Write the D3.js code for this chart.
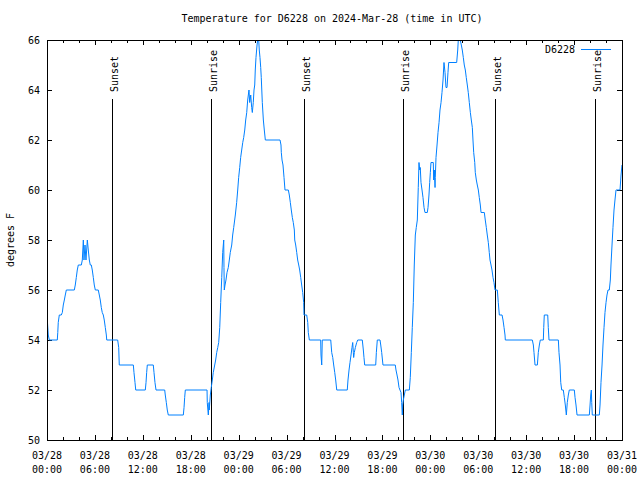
<!DOCTYPE html>
<html><head><meta charset="utf-8">
<script src="https://cdn.jsdelivr.net/npm/d3@7"></script>
<style>body{margin:0;background:#fff}svg{display:block}text{font-family:"DejaVu Sans Mono",monospace;font-size:10px;fill:#000}</style>
</head><body><div id="c"></div>
<script>
const title = "Temperature for D6228 on 2024-Mar-28 (time in UTC)";
const seriesName = "D6228";
const yLabel = "degrees F";
// hours since 2024-03-28 00:00 UTC
const hours = [0.04,0.16,0.29,1.29,1.35,1.41,1.54,1.79,1.92,2.04,2.17,2.29,2.42,3.42,3.54,3.67,3.79,3.92,4.30,4.42,4.55,4.63,4.76,4.88,5.05,5.17,5.30,5.42,5.55,5.67,5.80,5.92,6.05,6.42,6.55,6.67,6.80,6.92,7.05,7.17,7.30,7.43,7.48,8.85,8.98,9.05,10.81,10.89,11.02,11.11,12.31,12.40,12.48,12.56,13.31,13.40,13.52,13.65,14.74,14.81,14.94,15.06,15.19,17.07,17.16,17.24,17.32,20.04,20.07,20.20,20.29,20.32,20.45,20.57,20.70,20.82,21.00,21.12,21.25,21.38,21.50,21.63,21.75,21.88,22.00,22.13,22.16,22.20,22.29,22.41,22.54,22.70,22.83,22.95,23.13,23.25,23.38,23.50,23.58,23.75,23.88,24.00,24.13,24.25,24.38,24.51,24.63,24.76,24.88,25.01,25.13,25.29,25.38,25.51,25.63,25.71,25.83,25.92,26.01,26.08,26.17,26.30,26.38,26.51,26.58,26.67,26.76,26.83,26.96,27.09,27.21,27.34,29.18,29.30,29.34,29.43,29.55,29.68,29.80,30.22,30.34,30.47,30.59,30.72,30.84,30.97,31.02,31.14,31.27,31.39,31.52,31.64,31.77,31.89,32.02,32.14,32.18,32.52,32.65,32.72,32.85,34.27,34.31,34.40,34.47,35.53,35.65,35.78,35.90,36.03,36.15,36.28,37.60,37.69,37.82,37.94,38.07,38.19,38.28,38.36,38.40,38.48,38.61,38.78,38.91,39.48,39.61,39.69,39.78,41.16,41.24,41.36,41.70,41.79,41.91,42.07,43.61,43.70,43.83,43.95,44.08,44.20,44.33,44.41,44.49,44.54,44.62,44.74,44.87,45.37,45.49,45.62,45.74,45.87,45.99,46.12,46.24,46.37,46.49,46.58,46.67,46.74,46.83,46.96,47.08,47.21,47.33,47.62,47.71,47.83,47.92,48.00,48.08,48.37,48.42,48.50,48.59,48.62,48.71,48.84,48.96,49.09,49.21,49.34,49.46,49.59,49.71,49.84,49.96,50.09,50.21,50.30,51.30,51.43,51.50,51.75,51.88,52.00,52.13,52.25,52.38,52.50,52.63,52.75,52.88,53.01,53.13,53.26,53.34,53.43,53.56,53.63,53.76,53.88,54.01,54.13,54.26,54.35,54.76,54.88,55.01,55.13,55.26,55.38,55.47,55.60,55.72,55.85,55.97,56.10,56.39,56.51,56.64,56.98,57.10,57.23,57.35,57.39,60.77,60.90,60.98,61.11,61.40,61.52,61.65,61.77,62.15,62.20,62.27,62.70,62.77,62.86,64.03,64.11,64.24,64.33,64.45,64.65,64.78,64.90,65.03,65.15,65.28,65.40,66.03,66.12,66.24,66.37,67.91,68.00,68.08,68.16,68.21,68.28,69.16,69.25,69.37,69.50,69.62,69.75,69.87,70.00,70.12,70.25,70.41,70.54,70.62,70.75,70.87,71.00,71.12,71.25,71.75,71.88,72.00];
const temps = [54.8,54.2,54.0,54.0,54.3,54.7,55.0,55.0,55.1,55.4,55.6,55.8,56.0,56.0,56.2,56.5,56.8,57.0,57.0,57.2,58.0,57.2,57.8,57.2,58.0,57.6,57.2,57.0,57.0,56.8,56.5,56.2,56.0,56.0,55.8,55.6,55.3,55.1,55.0,54.8,54.5,54.2,54.0,54.0,53.7,53.0,53.0,52.7,52.3,52.0,52.0,52.3,52.7,53.0,53.0,52.7,52.3,52.0,52.0,51.8,51.5,51.2,51.0,51.0,51.3,51.7,52.0,52.0,51.5,51.0,51.5,51.2,51.8,52.1,52.4,52.7,53.0,53.2,53.5,53.7,53.9,54.5,55.5,56.5,57.5,58.0,56.9,56.0,56.2,56.4,56.7,56.9,57.2,57.5,57.8,58.2,58.5,58.8,59.0,59.5,60.0,60.5,60.9,61.3,61.6,61.9,62.1,62.4,62.8,63.1,63.6,64.0,63.5,63.8,63.3,63.1,63.5,64.0,64.2,64.8,65.3,65.8,66.0,66.0,65.6,65.3,64.9,64.5,63.5,62.8,62.4,62.0,62.0,61.8,61.5,61.2,61.0,60.5,60.0,60.0,59.8,59.5,59.2,58.9,58.7,58.4,58.0,57.8,57.5,57.2,57.0,56.8,56.5,56.2,55.9,55.5,55.0,55.0,54.7,54.3,54.0,54.0,53.4,53.0,54.0,54.0,53.5,53.3,53.0,52.7,52.4,52.0,52.0,52.4,52.8,53.1,53.4,53.7,53.9,53.5,53.3,53.5,53.7,53.9,54.0,54.0,53.6,53.3,53.0,53.0,53.5,54.0,54.0,53.8,53.5,53.0,53.0,52.8,52.6,52.4,52.1,52.0,51.9,51.5,51.0,51.4,51.6,51.8,52.0,52.0,52.5,53.5,54.5,55.5,57.0,58.2,58.5,58.8,60.1,61.1,60.8,60.9,60.3,60.0,59.7,59.3,59.1,59.1,59.3,59.8,60.3,60.7,61.1,61.1,60.4,60.8,60.1,60.5,61.3,61.8,62.3,62.7,63.2,63.5,63.9,64.4,65.1,64.7,64.1,64.1,64.7,65.1,65.1,65.6,66.0,66.0,65.8,65.6,65.3,65.0,64.8,64.5,64.2,63.9,63.5,63.1,62.8,62.5,62.0,61.5,61.1,60.7,60.4,60.2,60.0,59.7,59.4,59.1,59.1,58.8,58.5,58.2,57.9,57.5,57.2,57.0,56.8,56.5,56.3,56.0,56.0,55.5,55.0,55.0,54.8,54.5,54.2,54.0,54.0,53.8,53.5,53.0,53.0,53.5,53.8,54.0,54.0,54.5,55.0,55.0,54.5,54.0,54.0,53.5,53.0,52.3,52.0,52.0,51.7,51.4,51.0,51.5,51.8,52.0,52.0,51.7,51.4,51.0,51.0,51.4,51.8,52.0,51.5,51.0,51.0,51.4,52.3,53.0,53.8,54.5,55.1,55.5,55.8,56.0,56.0,56.4,57.0,57.8,58.5,59.2,59.6,60.0,60.0,60.6,61.0];
const sunEvents = [["Sunset",8.15],["Sunrise",20.55],["Sunset",32.17],["Sunrise",44.55],["Sunset",56.13],["Sunrise",68.6]];
const xTickHours = [0,6,12,18,24,30,36,42,48,54,60,66,72];
const xTickDates = ["03/28","03/28","03/28","03/28","03/29","03/29","03/29","03/29","03/30","03/30","03/30","03/30","03/31"];
const xTickTimes = ["00:00","06:00","12:00","18:00","00:00","06:00","12:00","18:00","00:00","06:00","12:00","18:00","00:00"];
const yTicks = [50,52,54,56,58,60,62,64,66];

const W=640,H=480, L=47,R=622,T=40,B=440;
const svg=d3.select("#c").append("svg").attr("width",W).attr("height",H);
const x=d3.scaleLinear().domain([0,72]).range([L,R]);
const y=d3.scaleLinear().domain([50,66]).range([B,T]);
const data=hours.map((h,i)=>[h,temps[i]]);

svg.append("defs").append("clipPath").attr("id","clip").append("rect").attr("x",L).attr("y",T).attr("width",R-L).attr("height",B-T);

const minor=d3.range(0,73,2);
const g=svg.append("g").attr("stroke","#000").attr("stroke-width",1).attr("shape-rendering","crispEdges");
minor.forEach(h=>{
  const len = h%6===0?5:3;
  const px=Math.round(x(h))+0.5;
  g.append("line").attr("x1",px).attr("x2",px).attr("y1",B).attr("y2",B-len);
  g.append("line").attr("x1",px).attr("x2",px).attr("y1",T).attr("y2",T+len);
});
yTicks.forEach(v=>{
  const py=Math.round(y(v))+0.5;
  g.append("line").attr("x1",L).attr("x2",L+5).attr("y1",py).attr("y2",py);
  g.append("line").attr("x1",R).attr("x2",R-5).attr("y1",py).attr("y2",py);
});

// sun lines
sunEvents.forEach(([lab,h])=>{
  const px=Math.round(x(h))+0.5;
  g.append("line").attr("x1",px).attr("x2",px).attr("y1",99).attr("y2",B);
  svg.append("text").attr("transform",`translate(${px+5},92) rotate(-90)`).attr("text-anchor","start").text(lab);
});

// line
svg.append("path").datum(data).attr("clip-path","url(#clip)")
  .attr("fill","none").attr("stroke","#0080ff").attr("stroke-width",1)
  .attr("d",d3.line().x(d=>x(d[0])).y(d=>y(d[1])));

// frame
svg.append("rect").attr("x",L+0.5).attr("y",T+0.5).attr("width",R-L).attr("height",B-T)
  .attr("fill","none").attr("stroke","#000").attr("shape-rendering","crispEdges");

// labels
xTickHours.forEach((h,i)=>{
  svg.append("text").attr("x",x(h)).attr("y",459).attr("text-anchor","middle").text(xTickDates[i]);
  svg.append("text").attr("x",x(h)).attr("y",473).attr("text-anchor","middle").text(xTickTimes[i]);
});
yTicks.forEach(v=>{
  svg.append("text").attr("x",40).attr("y",y(v)+4).attr("text-anchor","end").text(v);
});
svg.append("text").attr("x",W/2+12).attr("y",22).attr("text-anchor","middle").text(title);
svg.append("text").attr("transform",`translate(14,240) rotate(-90)`).attr("text-anchor","middle").text(yLabel);
svg.append("text").attr("x",575).attr("y",53).attr("text-anchor","end").text(seriesName);
svg.append("line").attr("x1",581).attr("x2",611).attr("y1",49.5).attr("y2",49.5).attr("stroke","#0080ff").attr("shape-rendering","crispEdges");
</script></body></html>
